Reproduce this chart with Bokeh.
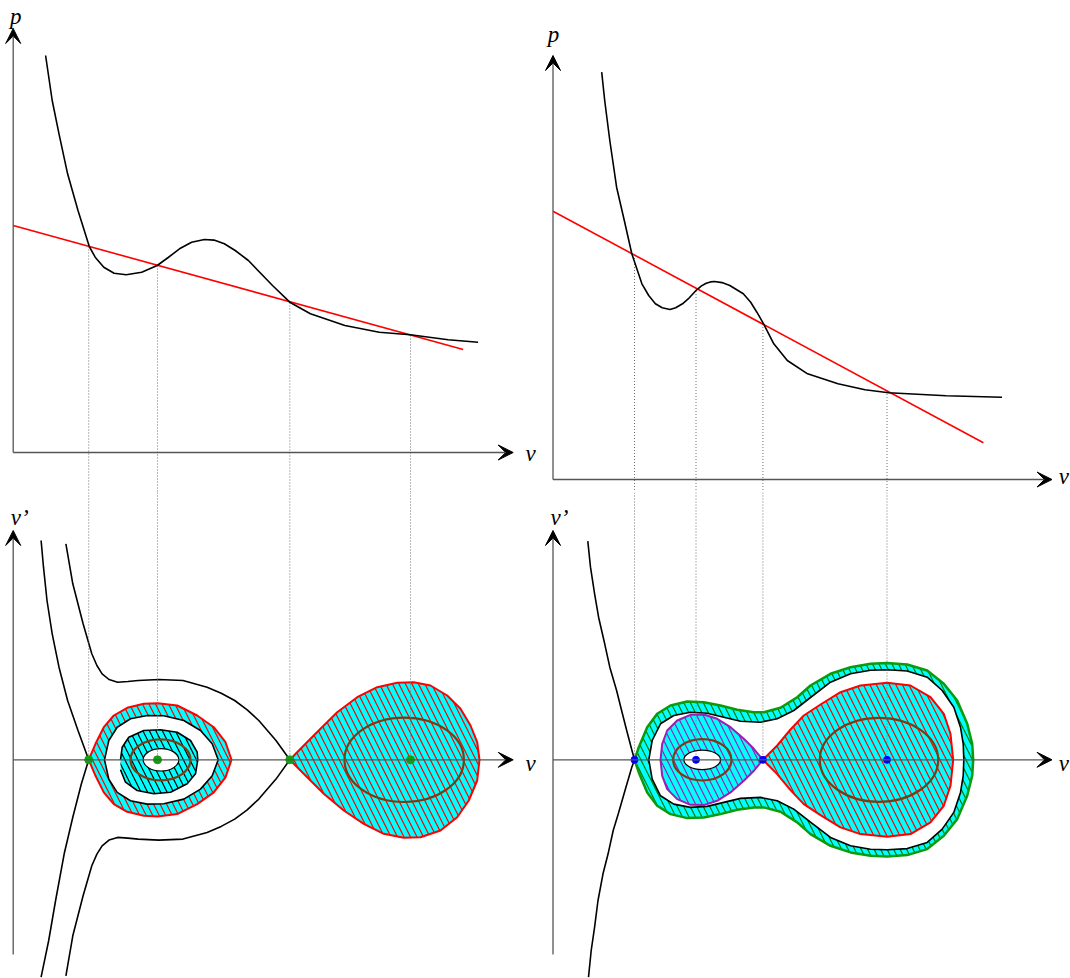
from bokeh.plotting import figure
from bokeh.layouts import gridplot
from bokeh.models import Range1d, Arrow, VeeHead, Label
from bokeh.embed import file_html
from bokeh.resources import INLINE

# ---------------- DATA (each panel in its own units, origin at the axes' corner) ----------------
# Top-left: p(v) curve and straight (Rayleigh) line, with their four crossings
TL_CURVE_V = [32.4, 39.0, 45.8, 54.4, 64.8, 76.1, 82.0, 90.6, 100.9, 113.0, 128.5, 144.0, 155.0, 166.3, 178.4,
              191.2, 200.8, 211.1, 222.0, 235.2, 259.3, 276.6, 297.2, 331.7, 366.1, 397.1, 435.0, 464.9]
TL_CURVE_P = [397.0, 352.0, 318.7, 278.7, 242.0, 206.0, 195.3, 185.3, 179.3, 177.7, 180.3, 187.0, 195.0, 203.7, 210.3,
              213.0, 212.4, 208.7, 202.0, 192.0, 167.0, 150.3, 138.7, 127.0, 120.3, 117.7, 112.7, 110.3]
TL_LINE_V = [0, 450]
TL_LINE_P = [227, 103]
L_EQ_V = [75.5, 144.3, 276.6, 397.3]          # v of the four equilibria (left column)
TL_EQ_P = [206, 187, 150, 117]

# Top-right
TR_CURVE_V = [48.7, 51.7, 56.8, 63.6, 71.3, 78.8, 88.9, 95.7, 102.4, 109.2, 117.0, 122.7, 129.5, 136.3,
              143.7, 148.5, 153.2, 157.5, 161.6, 169.0, 176.8, 190.3, 197.5, 203.9, 210.6, 220.8, 234.3,
              254.6, 285.0, 312.0, 335.7, 393.2, 449.0]
TR_CURVE_P = [407.3, 379.0, 339.0, 292.3, 259.0, 225.7, 195.7, 184.0, 175.7, 171.7, 170.0, 171.7, 175.7, 181.7,
              189.7, 193.6, 196.3, 197.6, 198.0, 196.9, 194.0, 185.7, 177.5, 167.3, 155.7, 135.7, 119.0,
              105.7, 95.7, 89.7, 86.7, 83.7, 82.3]
TR_LINE_V = [0, 430.4]
TR_LINE_P = [268.3, 36.7]
R_EQ_V = [81.5, 143.0, 209.9, 334.0]          # v of the four equilibria (right column)
TR_EQ_P = [224.5, 191.5, 155.5, 88.5]

# Bottom-left phase portrait (v, v'); closed orbits given by their upper half (v' >= 0), symmetric in v'
BL_SEP_V = [27.9, 30.3, 33.8, 39.0, 45.8, 54.4, 64.8, 75.5, 68.2, 59.6, 51.0, 42.4, 35.5, 27.9]
BL_SEP_W = [219.3, 192.6, 159.3, 126.0, 92.6, 59.3, 29.3, 0, -24.0, -57.4, -94.0, -140.7, -180.7, -217.4]
BL_OUTER_V = [52.7, 59.6, 69.9, 78.6, 83.7, 88.9, 95.8, 104.4, 114.7, 125.0, 145.7, 169.8, 193.9, 208.0,
              221.5, 234.0, 245.6, 262.8, 276.6]
BL_OUTER_W = [216.0, 176.0, 136.0, 106.0, 94.3, 86.0, 80.3, 77.6, 78.3, 79.3, 80.3, 79.3, 72.6, 66.6,
              59.3, 50.0, 39.3, 19.3, 0]
BL_LOOP_V = [75.5, 82.3, 90.6, 100.6, 114.0, 130.6, 144.6, 164.0, 184.0, 200.6, 212.3, 218.3]
BL_LOOP_W = [0, 16.0, 32.6, 44.3, 52.0, 56.0, 56.6, 54.3, 44.3, 32.6, 17.6, 0]
BL_EGG_V = [91.3, 95.6, 104.0, 117.3, 134.0, 150.6, 170.6, 187.3, 199.0, 205.0]
BL_EGG_W = [0, 19.3, 32.6, 41.0, 44.3, 44.0, 39.3, 29.3, 16.0, 0]
BL_RING_V = [107.3, 109.0, 115.6, 130.6, 147.3, 164.0, 177.3, 184.0, 184.6, 182.3, 174.0, 157.3, 140.6,
             124.0, 112.3, 107.3]
BL_RING_W = [0, 12.6, 22.6, 29.3, 30.0, 27.6, 19.3, 7.6, 0, -14.0, -24.0, -32.4, -34.0, -30.7, -22.4, -10.0]
BL_HOLE = dict(v=147.8, w=0, width=35.6, height=22.4)
BL_ELL1 = dict(v=147.3, w=0, width=60.0, height=41.0)
BL_DROP_V = [276.6, 290.6, 307.3, 324.0, 344.0, 364.0, 384.0, 400.6, 417.3, 434.0, 447.3, 457.3, 464.0, 466.3,
             464.0, 455.6, 444.0, 427.3, 407.3, 390.6, 370.6, 350.6, 330.6, 310.6, 294.0, 276.6]
BL_DROP_W = [0, 14.3, 31.0, 47.6, 62.6, 72.6, 77.0, 77.6, 74.3, 64.3, 51.0, 34.3, 17.6, 0,
             -20.7, -40.7, -57.4, -70.7, -77.4, -78.0, -74.0, -64.0, -50.7, -34.0, -17.4, 0]
BL_ELL2 = dict(v=391.0, w=0, width=119.4, height=84.4)

# Bottom-right phase portrait
BR_SEP_V = [34.8, 37.5, 41.6, 45.6, 51.7, 56.8, 63.6, 68.6, 73.7, 78.1, 81.5, 78.8, 72.0, 65.3, 60.2, 55.1,
            50.0, 45.0, 41.6, 38.2, 35.5]
BR_SEP_W = [218.6, 192.6, 166.0, 142.6, 116.0, 92.6, 69.3, 49.3, 29.3, 12.6, 0, -7.4, -30.7, -54.0, -70.7,
            -94.0, -114.0, -140.7, -167.4, -190.7, -217.4]
BR_GOUT_V = [81.5, 85.8, 94.2, 104.2, 117.5, 134.2, 150.8, 167.5, 184.2, 200.8, 210.8, 227.5, 244.2, 257.5,
             277.5, 297.5, 317.5, 334.2, 354.2, 374.2, 390.8, 404.2, 414.2, 419.2, 420.2]
BR_GOUT_W = [0, 12.6, 32.6, 46.0, 54.3, 58.3, 57.6, 54.3, 50.0, 47.6, 47.6, 52.0, 62.6, 74.3,
             86.0, 92.6, 96.0, 96.8, 95.3, 89.3, 76.0, 59.3, 36.0, 16.0, 0]
BR_GIN_V = [95.8, 99.2, 107.5, 120.8, 137.5, 154.2, 170.8, 187.5, 207.5, 224.2, 240.8, 257.5, 277.5, 297.5,
            317.5, 334.2, 354.2, 374.2, 389.2, 400.8, 407.5, 410.2, 410.8]
BR_GIN_W = [0, 19.3, 36.0, 44.3, 47.6, 46.6, 42.6, 38.6, 37.6, 41.0, 49.3, 62.3, 77.6, 86.0,
            89.5, 90.0, 88.8, 82.6, 69.3, 52.6, 32.6, 16.0, 0]
BR_PURP_V = [107.5, 109.2, 114.2, 124.2, 137.5, 150.8, 164.2, 177.5, 190.8, 200.8, 209.9]
BR_PURP_W = [0, 16.0, 29.3, 39.3, 45.0, 45.3, 41.0, 32.6, 21.0, 11.0, 0]
BR_HOLE = dict(v=149.2, w=0, width=36.7, height=19.5)
BR_ELL1 = dict(v=149.3, w=0, width=58.3, height=41.4)
BR_RED_V = [209.9, 224.2, 237.5, 250.8, 267.5, 287.5, 307.5, 334.2, 357.5, 377.5, 390.8, 397.5, 400.2]
BR_RED_W = [0, 14.3, 30.3, 44.3, 55.3, 67.6, 74.3, 77.0, 74.3, 62.6, 46.0, 26.0, 0]
BR_ELL2 = dict(v=326.0, w=0, width=118.4, height=84.0)

# ---------------- STYLE ----------------
CYAN = "#00FFFF"
RED = "#FF0000"
GREEN_LINE = "#0A9A0A"
GREEN_HATCH = "#007A00"
PURPLE = "#9A20B4"
BROWN = "#7E3A10"
AXIS = "#555555"
DOT = "#707070"
GREEN_PT = "#10A010"
BLUE_PT = "#0000FF"
HATCH = "\\"
HSCALE = 13


def make_fig(w, h, x0, x1, y0, y1):
    p = figure(width=w, height=h, x_range=Range1d(x0, x1), y_range=Range1d(y0, y1),
               output_backend="svg", toolbar_location=None,
               x_axis_location=None, y_axis_location=None, min_border=0,
               outline_line_color=None, background_fill_color="white", border_fill_color="white")
    p.xgrid.visible = False
    p.ygrid.visible = False
    return p


def closed(v, w):
    return list(v) + list(v[::-1]), list(w) + [-x for x in w[::-1]]


def neg(w):
    return [-x for x in w]


def axes(p, x_end, y_end, y_start=0):
    for (xs, ys, xe, ye) in [(0, 0, x_end, 0), (0, y_start, 0, y_end)]:
        p.add_layout(Arrow(end=VeeHead(size=15, fill_color="black", fill_alpha=1.0,
                                       line_color="black", line_width=1),
                           x_start=xs, y_start=ys, x_end=xe, y_end=ye,
                           line_color=AXIS, line_width=1.3))


def label(p, x, y, text, align="center"):
    p.add_layout(Label(x=x, y=y, text=text, text_font="Liberation Serif", text_font_style="italic",
                       text_font_size="23px", text_align=align, text_baseline="alphabetic",
                       text_color="black"))


def hatched(p, xs, ys, hatch_color):
    p.patch(xs, ys, fill_color=CYAN, line_color=None, hatch_pattern=HATCH,
            hatch_color=hatch_color, hatch_scale=HSCALE, hatch_weight=1.2)


# ---------------- TOP-LEFT ----------------
TL_Y0 = -40
tl = make_fig(542, 492, -12.7, 529.3, TL_Y0, 452)
tl.segment(x0=L_EQ_V, y0=TL_EQ_P, x1=L_EQ_V, y1=[TL_Y0] * 4, line_color=DOT, line_dash="1 2", line_width=1)
tl.line(TL_LINE_V, TL_LINE_P, line_color=RED, line_width=1.6)
tl.line(TL_CURVE_V, TL_CURVE_P, line_color="black", line_width=1.6)
axes(tl, 500, 424)
label(tl, 2.5, 436, "p")
label(tl, 517.5, -1, "v")

# ---------------- TOP-RIGHT ----------------
TR_Y0 = -13
tr = make_fig(528, 492, -10.5, 517.5, TR_Y0, 479)
tr.segment(x0=R_EQ_V, y0=TR_EQ_P, x1=R_EQ_V, y1=[TR_Y0] * 4, line_color=DOT, line_dash="1 2", line_width=1)
tr.line(TR_LINE_V, TR_LINE_P, line_color=RED, line_width=1.6)
tr.line(TR_CURVE_V, TR_CURVE_P, line_color="black", line_width=1.6)
axes(tr, 499, 424)
label(tr, 0.5, 445, "p")
label(tr, 516, 3, "v", align="right")

# ---------------- BOTTOM-LEFT ----------------
B_Y1 = 267.3
bl = make_fig(542, 486, -12.7, 529.3, -218.7, B_Y1)
# left loop (red band) and its white interior
x, y = closed(BL_LOOP_V, BL_LOOP_W)
hatched(bl, x, y, RED)
ex, ey = closed(BL_EGG_V, BL_EGG_W)
bl.patch(ex, ey, fill_color="white", line_color="black", line_width=1.6)
bl.line(x, y, line_color=RED, line_width=2)
# inner black-hatched ring
hatched(bl, BL_RING_V, BL_RING_W, "black")
bl.line(BL_RING_V, BL_RING_W, line_color="black", line_width=1.6)
bl.ellipse(x=BL_HOLE["v"], y=BL_HOLE["w"], width=BL_HOLE["width"], height=BL_HOLE["height"],
           fill_color="white", line_color="black", line_width=1.2)
bl.ellipse(x=BL_ELL1["v"], y=BL_ELL1["w"], width=BL_ELL1["width"], height=BL_ELL1["height"],
           fill_color=None, line_color=BROWN, line_width=2.2)
# right drop
hatched(bl, BL_DROP_V, BL_DROP_W, RED)
bl.line(BL_DROP_V, BL_DROP_W, line_color=RED, line_width=2)
bl.ellipse(x=BL_ELL2["v"], y=BL_ELL2["w"], width=BL_ELL2["width"], height=BL_ELL2["height"],
           fill_color=None, line_color=BROWN, line_width=2.2)
# black trajectories
bl.line(BL_SEP_V, BL_SEP_W, line_color="black", line_width=1.6)
bl.line(BL_OUTER_V, BL_OUTER_W, line_color="black", line_width=1.6)
bl.line(BL_OUTER_V, neg(BL_OUTER_W), line_color="black", line_width=1.6)
bl.segment(x0=L_EQ_V, y0=[B_Y1] * 4, x1=L_EQ_V, y1=[0] * 4, line_color=DOT, line_dash="1 2", line_width=1)
axes(bl, 500, 229.3, -194.7)
bl.scatter(L_EQ_V, [0] * 4, size=8, fill_color=GREEN_PT, line_color=GREEN_PT)
label(bl, -2.5, 242.5, "v\u2019", align="left")
label(bl, 517.5, -4, "v")

# ---------------- BOTTOM-RIGHT ----------------
br = make_fig(528, 486, -10.5, 517.5, -218.7, B_Y1)
gx, gy = closed(BR_GOUT_V, BR_GOUT_W)
hatched(br, gx, gy, GREEN_HATCH)
ix, iy = closed(BR_GIN_V, BR_GIN_W)
br.patch(ix, iy, fill_color="white", line_color="black", line_width=1.6)
br.line(gx, gy, line_color=GREEN_LINE, line_width=2.5)
# purple lobe
px_, py_ = closed(BR_PURP_V, BR_PURP_W)
hatched(br, px_, py_, PURPLE)
br.line(px_, py_, line_color=PURPLE, line_width=2)
br.ellipse(x=BR_HOLE["v"], y=BR_HOLE["w"], width=BR_HOLE["width"], height=BR_HOLE["height"],
           fill_color="white", line_color="black", line_width=1.2)
br.ellipse(x=BR_ELL1["v"], y=BR_ELL1["w"], width=BR_ELL1["width"], height=BR_ELL1["height"],
           fill_color=None, line_color=BROWN, line_width=2.2)
# red lobe
rx, ry = closed(BR_RED_V, BR_RED_W)
hatched(br, rx, ry, RED)
br.line(rx, ry, line_color=RED, line_width=2)
br.ellipse(x=BR_ELL2["v"], y=BR_ELL2["w"], width=BR_ELL2["width"], height=BR_ELL2["height"],
           fill_color=None, line_color=BROWN, line_width=2.2)
br.line(BR_SEP_V, BR_SEP_W, line_color="black", line_width=1.6)
br.segment(x0=R_EQ_V, y0=[B_Y1] * 4, x1=R_EQ_V, y1=[0] * 4, line_color=DOT, line_dash="1 2", line_width=1)
axes(br, 499, 229.3, -194.7)
br.scatter(R_EQ_V, [0] * 4, size=7, fill_color=BLUE_PT, line_color=BLUE_PT)
label(br, -2.5, 242.5, "v\u2019", align="left")
label(br, 516, -4, "v", align="right")

grid = gridplot([[tl, tr], [bl, br]], toolbar_location=None)
open("out.html", "w").write(file_html(grid, INLINE))
